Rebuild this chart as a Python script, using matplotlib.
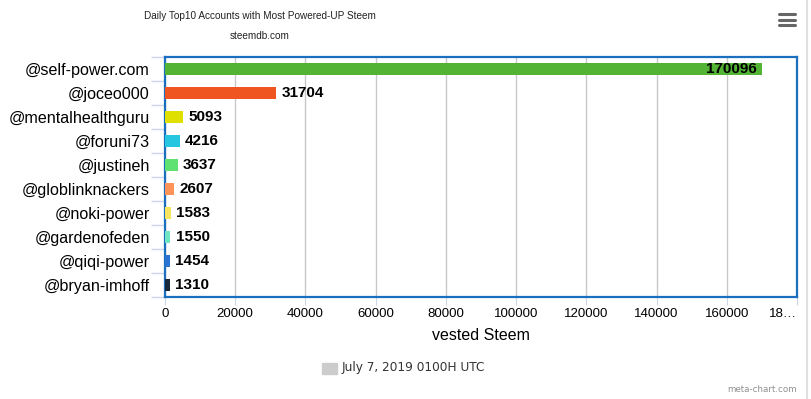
import matplotlib
matplotlib.use("Agg")
import matplotlib.pyplot as plt
from matplotlib.lines import Line2D
from matplotlib.patches import Rectangle

contas = ["@self-power.com", "@joceo000", "@mentalhealthguru", "@foruni73", "@justineh",
          "@globlinknackers", "@noki-power", "@gardenofeden", "@qiqi-power", "@bryan-imhoff"]
valores = [170096, 31704, 5093, 4216, 3637, 2607, 1583, 1550, 1454, 1310]
cores = ["#52b334", "#ee5520", "#dfe000", "#27c6e0", "#5fe271",
         "#fd9356", "#f7e55e", "#6ee6c6", "#2b74d2", "#17283a"]
ticks_x = [0, 20000, 40000, 60000, 80000, 100000, 120000, 140000, 160000, 180000]
rotulos_x = ["0", "20000", "40000", "60000", "80000", "100000", "120000", "140000", "160000", "18…"]
legenda = "July 7, 2019 0100H UTC"

W, H = 811, 399
fig = plt.figure(figsize=(W / 100, H / 100), dpi=100)
fonte = "Liberation Sans"

ax = fig.add_axes([165 / W, 1 - 297 / H, (797 - 165) / W, (297 - 57) / H])
pos = list(range(len(contas)))
ax.barh(pos, valores, height=0.46, color=cores, zorder=3)
ax.set_ylim(len(contas) - 0.5, -0.5)
ax.set_xlim(0, 180000)

for i, v in enumerate(valores):
    if v > 150000:
        ax.text(v - 1500, i, str(v), ha="right", va="center", fontsize=11,
                fontweight="bold", family=fonte, zorder=4)
    else:
        ax.text(v + 1500, i, str(v), ha="left", va="center", fontsize=11,
                fontweight="bold", family=fonte, zorder=4)

ax.set_xticks(ticks_x)
ax.set_xticklabels(rotulos_x, family=fonte, fontsize=9.5)
ax.get_xticklabels()[-1].set_ha("right")
ax.get_xticklabels()[-1].set_x(179500)
ax.set_yticks(pos)
ax.set_yticklabels(contas, family=fonte, fontsize=11.6)
ax.tick_params(axis="y", length=0, pad=11)
ax.tick_params(axis="x", length=6, color="#ccd6eb", pad=2)
# ticks do eixo y nas fronteiras das categorias
ax.set_yticks([i + 0.5 for i in range(-1, len(contas))], minor=True)
ax.tick_params(axis="y", which="minor", length=10, color="#ccd6eb", width=1)
ax.grid(axis="x", color="#c8c8c8", lw=1, zorder=0)
for s in ax.spines.values():
    s.set_color("#1a6fbf")
    s.set_linewidth(1.6)
ax.set_xlabel("vested Steem", family=fonte, fontsize=11.5, labelpad=6)

fig.text(260 / W, 1 - 16 / H, "Daily Top10 Accounts with Most Powered-UP Steem",
         ha="center", va="center", fontsize=7.2, family=fonte, color="#222222")
fig.text(260 / W, 1 - 36 / H, "steemdb.com", ha="center", va="center",
         fontsize=7.2, family=fonte, color="#222222")

# legenda
fig.add_artist(Rectangle((322 / W, 1 - 374 / H), 15 / W, 11 / H,
                         transform=fig.transFigure, color="#cccccc"))
fig.text(342 / W, 1 - 368 / H, legenda, ha="left", va="center",
         fontsize=8.7, family="DejaVu Sans", color="#333333")
fig.text(797 / W, 1 - 390 / H, "meta-chart.com", ha="right", va="center",
         fontsize=6.3, family="DejaVu Sans", color="#909090")

# ícone de menu
for yy in (14, 20, 25):
    fig.add_artist(Line2D([779 / W, 795 / W], [1 - yy / H, 1 - yy / H],
                          transform=fig.transFigure, color="#666666", lw=2.2,
                          solid_capstyle="round"))
fig.add_artist(Line2D([807 / W, 807 / W], [0, 1], transform=fig.transFigure,
                      color="#e0e0e0", lw=1.5))

fig.savefig("out.png", dpi=100)
